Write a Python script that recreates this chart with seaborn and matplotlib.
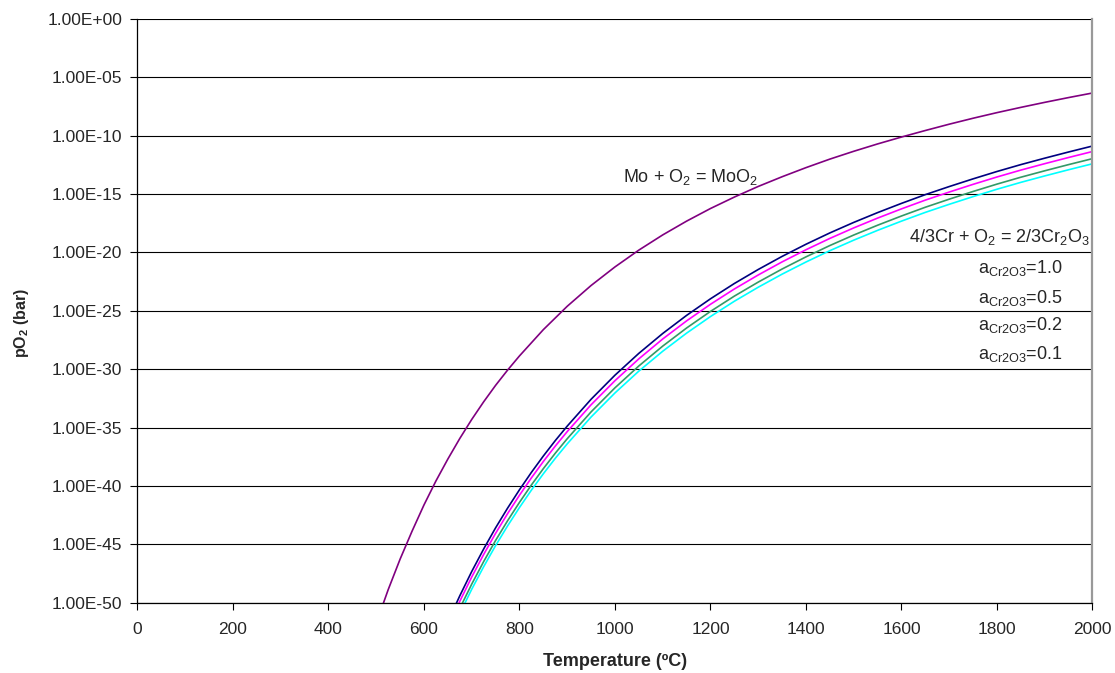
import numpy as np
import pandas as pd
import matplotlib
matplotlib.use("Agg")
import matplotlib.pyplot as plt
import seaborn as sns

# ---- data (log10 pO2 in bar) ----
mo_T = [500, 525, 550, 575, 600, 625, 650, 675, 700, 725, 750, 775, 800, 850,
        900, 950, 1000, 1050, 1100, 1150, 1200, 1250, 1300, 1350, 1400, 1450,
        1500, 1550, 1600, 1650, 1700, 1750, 1800, 1850, 1900, 1950, 2000]
mo_logp = [-51.76, -48.88, -46.26, -43.87, -41.62, -39.57, -37.69, -35.93,
           -34.30, -32.79, -31.38, -30.08, -28.86, -26.61, -24.61, -22.83,
           -21.24, -19.80, -18.50, -17.32, -16.24, -15.26, -14.35, -13.52,
           -12.74, -12.01, -11.34, -10.71, -10.12, -9.56, -9.02, -8.51, -8.03,
           -7.58, -7.15, -6.74, -6.35]

cr_T = [650, 675, 700, 725, 750, 775, 800, 825, 850, 875, 900, 950, 1000, 1050,
        1100, 1150, 1200, 1250, 1300, 1350, 1400, 1450, 1500, 1550, 1600, 1650,
        1700, 1750, 1800, 1850, 1900, 1950, 2000]
cr_a10 = [-51.63, -49.40, -47.32, -45.39, -43.58, -41.90, -40.32, -38.83, -37.43,
          -36.11, -34.87, -32.57, -30.51, -28.64, -26.94, -25.39, -23.97, -22.66,
          -21.46, -20.34, -19.30, -18.33, -17.43, -16.59, -15.80, -15.05, -14.36,
          -13.70, -13.07, -12.48, -11.93, -11.40, -10.89]
cr_a05 = [-52.10, -49.87, -47.79, -45.86, -44.05, -42.37, -40.79, -39.30, -37.90,
          -36.58, -35.34, -33.04, -30.98, -29.11, -27.41, -25.86, -24.44, -23.13,
          -21.93, -20.81, -19.77, -18.80, -17.90, -17.06, -16.27, -15.52, -14.83,
          -14.17, -13.54, -12.95, -12.40, -11.87, -11.36]
cr_a02 = [-52.71, -50.48, -48.40, -46.47, -44.66, -42.98, -41.40, -39.91, -38.51,
          -37.19, -35.95, -33.65, -31.59, -29.72, -28.02, -26.47, -25.05, -23.74,
          -22.54, -21.42, -20.38, -19.41, -18.51, -17.67, -16.88, -16.13, -15.44,
          -14.78, -14.15, -13.56, -13.01, -12.48, -11.97]
cr_a01 = [-53.15, -50.92, -48.84, -46.91, -45.10, -43.42, -41.84, -40.35, -38.95,
          -37.63, -36.39, -34.09, -32.03, -30.16, -28.46, -26.91, -25.49, -24.18,
          -22.98, -21.86, -20.82, -19.85, -18.95, -18.11, -17.32, -16.57, -15.88,
          -15.22, -14.59, -14.00, -13.45, -12.92, -12.41]

series_names = ["Mo", "a1.0", "a0.5", "a0.2", "a0.1"]
series_colors = ["#800080", "#000080", "#FF00FF", "#339966", "#00FFFF"]

x_ticks = list(range(0, 2001, 200))
y_tick_exps = list(range(-50, 1, 5))
activity_labels = ["a$_{Cr2O3}$=1.0", "a$_{Cr2O3}$=0.5",
                   "a$_{Cr2O3}$=0.2", "a$_{Cr2O3}$=0.1"]

# ---- build long table ----
frames = [pd.DataFrame({"T": mo_T, "p": 10.0 ** np.array(mo_logp), "s": "Mo"})]
for name, vals in zip(series_names[1:], [cr_a10, cr_a05, cr_a02, cr_a01]):
    frames.append(pd.DataFrame({"T": cr_T, "p": 10.0 ** np.array(vals), "s": name}))
df = pd.concat(frames, ignore_index=True)

sns.set_style("white")
plt.rcParams["font.family"] = ["Liberation Sans", "DejaVu Sans"]
plt.rcParams["mathtext.default"] = "regular"

fig = plt.figure(figsize=(11.15, 6.73), dpi=100)
ax = fig.add_axes([0.1233, 0.1043, 0.9798 - 0.1233, 0.972 - 0.1043])

sns.lineplot(data=df, x="T", y="p", hue="s", hue_order=series_names,
             palette=dict(zip(series_names, series_colors)), ax=ax,
             linewidth=1.2, legend=False, sort=True, estimator=None)

ax.set_yscale("log")
ax.set_xlim(0, 2000)
ax.set_ylim(1e-50, 1e0)

yt = [10.0 ** e for e in y_tick_exps]
ax.set_yticks(yt)
ax.set_yticklabels([f"{v:.2E}" for v in yt])
ax.yaxis.set_minor_locator(matplotlib.ticker.NullLocator())
ax.set_xticks(x_ticks)
ax.set_xticklabels([str(t) for t in x_ticks])

ax.tick_params(axis="y", which="major", direction="out", length=5, width=0.8,
               color="black", labelsize=12.5, pad=6, left=True)
ax.tick_params(axis="x", which="major", direction="out", length=5, width=0.8,
               color="black", labelsize=12.5, pad=9, bottom=True)

ax.grid(axis="y", which="major", color="black", linewidth=0.8)
ax.grid(axis="x", visible=False)
ax.set_axisbelow(True)

for side in ["left", "bottom"]:
    ax.spines[side].set_color("black")
    ax.spines[side].set_linewidth(0.9)
ax.spines["top"].set_visible(False)
ax.spines["right"].set_color("#999999")
ax.spines["right"].set_linewidth(1.6)

ax.set_xlabel("Temperature (ºC)", fontsize=13, fontweight="bold")
ax.xaxis.set_label_coords(0.5, -(653 - 602.8) / 584)
ax.set_ylabel("pO$_2$ (bar)", fontsize=11.5, fontweight="bold")
ax.yaxis.set_label_coords((31 - 137.5) / 955, 0.48)

ax.text(1017, 10 ** -13.95, "Mo + O$_2$ = MoO$_2$", fontsize=13,
        ha="left", va="baseline")
ax.text(1996, 10 ** -19.08, "4/3Cr + O$_2$ = 2/3Cr$_2$O$_3$", fontsize=13,
        ha="right", va="baseline")
for lab, ly in zip(activity_labels, [-21.79, -24.3, -26.64, -29.15]):
    ax.text(1938, 10 ** ly, lab, fontsize=13, ha="right", va="baseline")

fig.savefig("out.png", dpi=100, facecolor="white")
